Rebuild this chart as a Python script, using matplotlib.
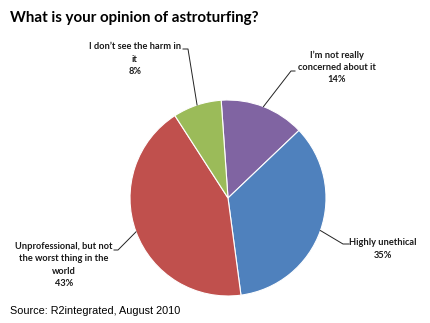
import numpy as np
import matplotlib.pyplot as plt
from matplotlib.lines import Line2D
from matplotlib.transforms import IdentityTransform

labels = ["I\u2019m not really\nconcerned about it", "Highly unethical",
          "Unprofessional, but not\nthe worst thing in the\nworld", "I don\u2019t see the harm in\nit"]
values = [14, 35, 43, 8]
colors = ['#8064A2', '#4F81BD', '#C0504D', '#9BBB59']

W, H = 431, 323
fig = plt.figure(figsize=(W / 100, H / 100), dpi=100)
fig.patch.set_facecolor('white')

# pie box in pixels: left 130, right 326, top 100, bottom 296
ax = fig.add_axes([130 / W, 1 - 296 / H, 196 / W, 196 / H])
wedges, _ = ax.pie(values, colors=colors, startangle=94, counterclock=False,
                   wedgeprops=dict(edgecolor='white', linewidth=0.8))
ax.set_aspect('auto')
ax.set_xlim(-1, 1)
ax.set_ylim(-1, 1)

fig.text(10 / W, 1 - 18 / H, "What is your opinion of astroturfing?", fontsize=10.9,
         fontweight='bold', family='Lato', va='center', ha='left')
fig.text(10 / W, 1 - 311 / H, "Source: R2integrated, August 2010", fontsize=7.8,
         family='Liberation Sans', va='center', ha='left')

# label text centres (pixels), and the leader line: text end -> bend
text_pos = [(337, 67), (383, 249), (64, 265), (135, 59)]
line_pts = [[(295, 71), (291, 71)], [(349, 244), (343, 244)],
            [(114, 250), (118, 250)], [(183, 49), (188, 49)]]
fig.canvas.draw()
for i, w in enumerate(wedges):
    ang = np.deg2rad((w.theta1 + w.theta2) / 2)
    ex, ey = ax.transData.transform((np.cos(ang), np.sin(ang)))
    fig.text(text_pos[i][0] / W, 1 - text_pos[i][1] / H,
             labels[i] + "\n" + str(values[i]) + "%", fontsize=6.7,
             family='Lato', fontweight='bold', ha='center', va='center',
             linespacing=1.45, color='#1a1a1a')
    xs = [p[0] for p in line_pts[i]] + [ex]
    ys = [H - p[1] for p in line_pts[i]] + [ey]
    fig.add_artist(Line2D(xs, ys, transform=IdentityTransform(), color='#222222', lw=0.7))

fig.savefig('out.png', dpi=100)
